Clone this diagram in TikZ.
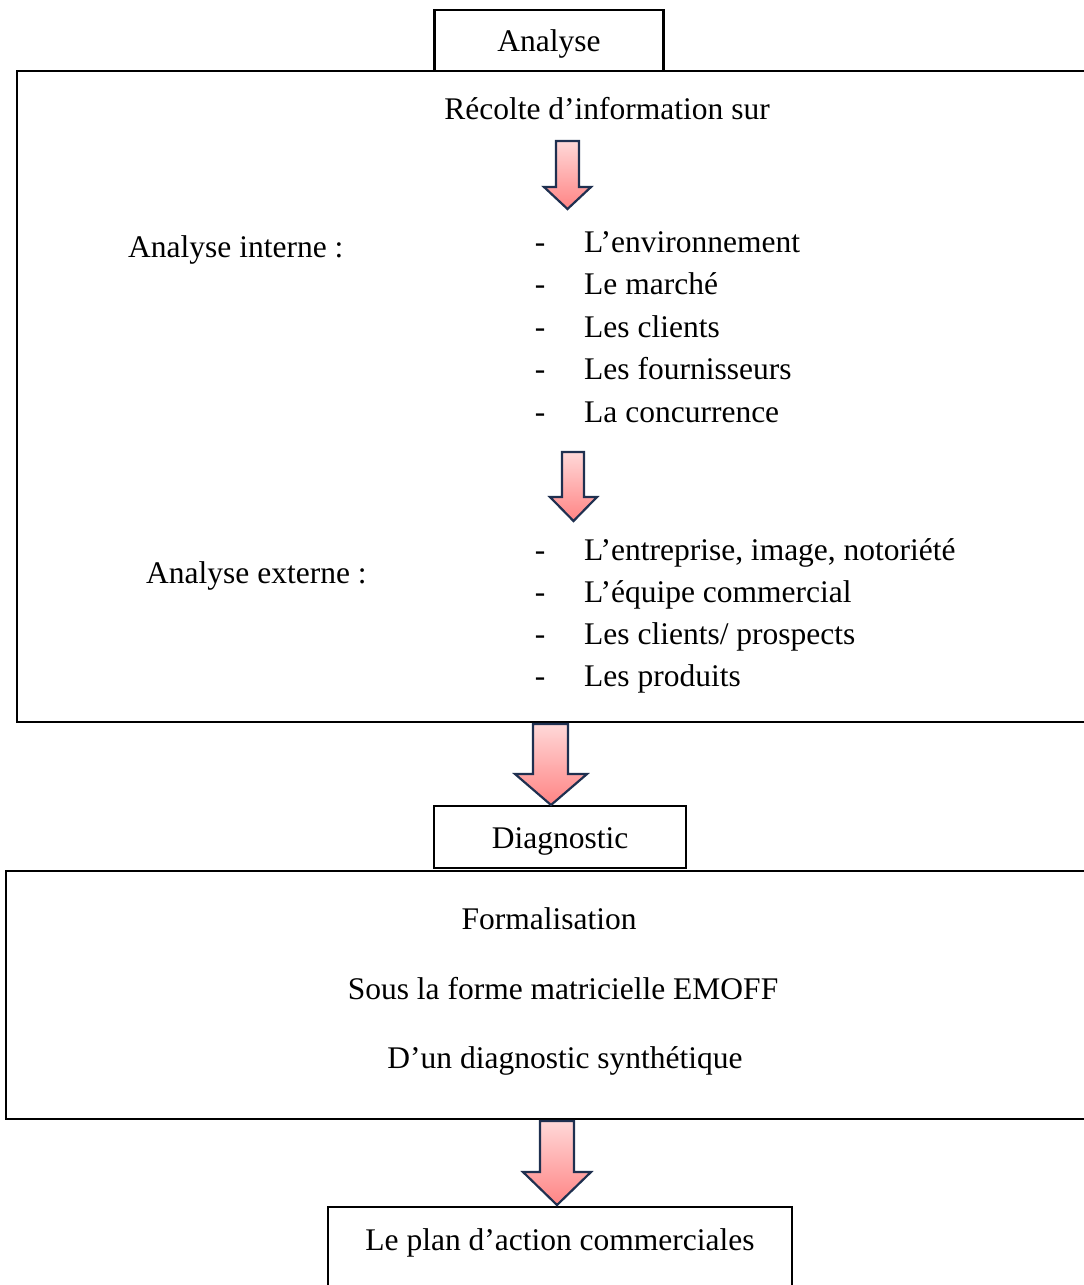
\documentclass[tikz,border=0pt]{standalone}
\usepackage{fontspec}
\setmainfont{Liberation Serif}
\usetikzlibrary{positioning}

\tikzset{
  box/.style={draw=black, line width=2.4pt},
  txt/.style={font=\fontsize{31.5}{37}\selectfont, inner sep=0pt, anchor=base},
  blockarrow/.style={draw=arrowblue, line width=2.2pt, line join=miter,
    top color=arrowtop, bottom color=arrowbot}
}
\definecolor{arrowblue}{HTML}{1F3050}
\definecolor{arrowtop}{HTML}{FFD8D8}
\definecolor{arrowbot}{HTML}{FF8484}

\begin{document}
\begin{tikzpicture}[x=1pt, y=-1pt]
  \clip (0,0) rectangle (1084,1285);
  \useasboundingbox (0,0) rectangle (1084,1285);
  % Boxes
  \draw[box] (17,71) rectangle (1100,722);
  \draw[box] (6,871) rectangle (1100,1119);
  \node[box, fill=white, minimum width=229pt, minimum height=61pt, inner sep=0pt] (analyse) at (549,40.5) {};
  \node[txt] at (549,51) {Analyse};
  \node[box, fill=white, minimum width=252pt, minimum height=62pt, inner sep=0pt] (diag) at (560,837) {};
  \node[txt] at (560,848) {Diagnostic};
  \draw[box] (328,1300) |- (792,1207) -- (792,1300);
  \node[txt] (plan) at (560,1250) {Le plan d’action commerciales};
  % Collecte
  \node[txt] (recolte) at (607,119) {Récolte d’information sur};
  \node[txt, anchor=base west] (interne) at (128,257) {Analyse interne :};
  \node[txt, anchor=base west] (externe) at (146,583) {Analyse externe :};
  \foreach \t [count=\i] in {L’environnement, Le marché, Les clients, Les fournisseurs, La concurrence} {
    \node[txt, anchor=base west] (int\i) at (584,{252+42.5*(\i-1)}) {\t};
    \node[txt] at (540,{252+42.5*(\i-1)}) {-};
  }
  \foreach \t [count=\i] in {{L’entreprise, image, notoriété}, L’équipe commercial, Les clients/ prospects, Les produits} {
    \node[txt, anchor=base west] (ext\i) at (584,{560+42.3*(\i-1)}) {\t};
    \node[txt] at (540,{560+42.3*(\i-1)}) {-};
  }
  % Formalisation
  \node[txt] (forma) at (549,929) {Formalisation};
  \node[txt] (emoff) at (563,999) {Sous la forme matricielle EMOFF};
  \node[txt] (synth) at (565,1068) {D’un diagnostic synthétique};
  % Block arrows
  \draw[blockarrow] (556,141) -- (579,141) -- (579,187) -- (591,187) -- (567.5,209) -- (544,187) -- (556,187) -- cycle;
  \draw[blockarrow] (562,452) -- (584,452) -- (584,497) -- (597,497) -- (573.5,521) -- (550,497) -- (562,497) -- cycle;
  \draw[blockarrow] (533,724) -- (568,724) -- (568,774) -- (587,774) -- (551,805) -- (515,774) -- (533,774) -- cycle;
  \draw[blockarrow] (540,1121) -- (574,1121) -- (574,1172) -- (591,1172) -- (557,1205) -- (523,1172) -- (540,1172) -- cycle;
\end{tikzpicture}
\end{document}
